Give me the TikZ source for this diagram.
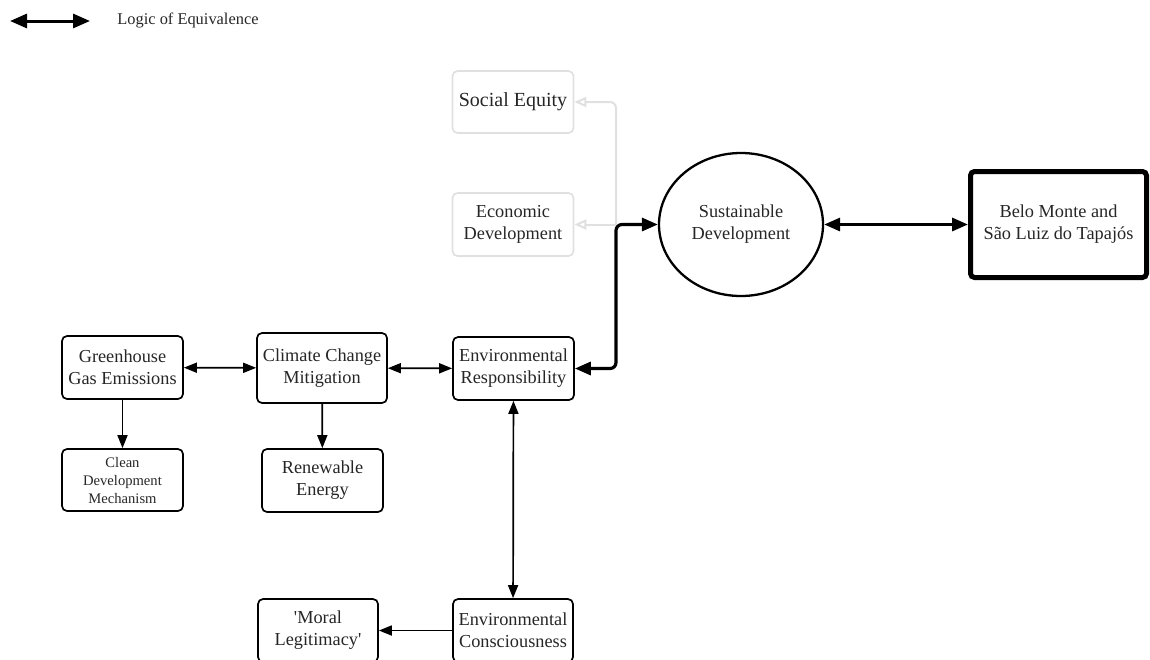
\documentclass[tikz,border=0pt]{standalone}
\usepackage{fontspec}
\setmainfont{Liberation Serif}
\usetikzlibrary{arrows.meta,shapes.geometric}

\begin{document}
\begin{tikzpicture}[x=0.5pt,y=-0.5pt,
    >={Triangle[length=6.5pt,width=5pt]},
    box/.style={draw,line width=0.85pt,rounded corners=2.5pt,inner sep=0pt,
      minimum width=60.5pt,minimum height=31.5pt,align=center,text=black!85,
      font=\fontsize{9.15}{11}\selectfont},
    greybox/.style={box,draw=black!12},
    bigbox/.style={box,line width=2.5pt,rounded corners=2pt,
      minimum width=88pt,minimum height=53pt},
    circ/.style={draw,ellipse,line width=1.15pt,inner sep=0pt,
      minimum width=82pt,minimum height=71.5pt,align=center,text=black!85,
      font=\fontsize{9.15}{11}\selectfont},
    link/.style={line width=0.85pt},
    boldlink/.style={line width=1.6pt,rounded corners=3pt,
      >={Triangle[length=8pt,width=6.5pt]}},
    greylink/.style={draw=black!12,line width=1pt,rounded corners=3pt,
      >={Triangle[open,length=6pt,width=5pt]}}
  ]

  \useasboundingbox (0,0) rectangle (1150,659);

  % key
  \coordinate (k1) at (10,21);
  \coordinate (k2) at (90,21);
  \draw[line width=1.5pt,{Triangle[length=8.5pt,width=7pt]}-{Triangle[length=8.5pt,width=7pt]}]
    (k1) -- (k2);
  \node[anchor=west,inner sep=0pt,text=black!85,font=\fontsize{8.2}{10}\selectfont]
    (keytext) at (117,20) {Logic of Equivalence};

  % top
  \node[greybox,minimum height=31pt,font=\fontsize{10}{12}\selectfont]
    (soc) at (513,102) {Social Equity};
  \node[greybox] (eco) at (513,224.5) {Economic\\Development};
  \node[circ] (sd) at (741,224.5) {Sustainable\\Development};
  \node[bigbox] (belo) at (1058.5,224.5) {Belo Monte and\\S\~ao Luiz do Tapaj\'os};

  % middle row
  \node[box] (ghg) at (122.5,367.5) {Greenhouse\\Gas Emissions};
  \node[box,minimum width=65pt,minimum height=35pt] (ccm) at (322,368) {Climate Change\\Mitigation};
  \node[box] (er) at (513.5,368.5) {Environmental\\Responsibility};

  \node[box,minimum height=31pt,font=\fontsize{7.3}{9}\selectfont]
    (cdm) at (122.5,480) {Clean\\Development\\Mechanism};
  \node[box] (re) at (322.5,480.5) {Renewable\\Energy};

  % bottom
  \node[box,minimum width=60pt] (ml) at (318,630.5)
    {\textquotesingle Moral\\Legitimacy\textquotesingle};
  \node[box,minimum width=60pt] (ec) at (513,630.5) {Environmental\\Consciousness};

  \coordinate (split) at (616,224.5);

  \draw[greylink,->] (split) |- (soc.east);
  \draw[greylink,->] (split) -- (eco.east);
  \draw[boldlink,<->] (er.east) -| (split) -- (sd.west);
  \draw[boldlink,<->] (sd) -- (belo);

  \draw[link,<->] (ghg) -- (ccm);
  \draw[link,<->] (ccm) -- (er);
  \draw[link,->] (ghg) -- (cdm);
  \draw[link,->] (ccm) -- (re);
  \draw[link,<->] (er) -- (ec);
  \draw[link,->] (ec) -- (ml);

\end{tikzpicture}
\end{document}
